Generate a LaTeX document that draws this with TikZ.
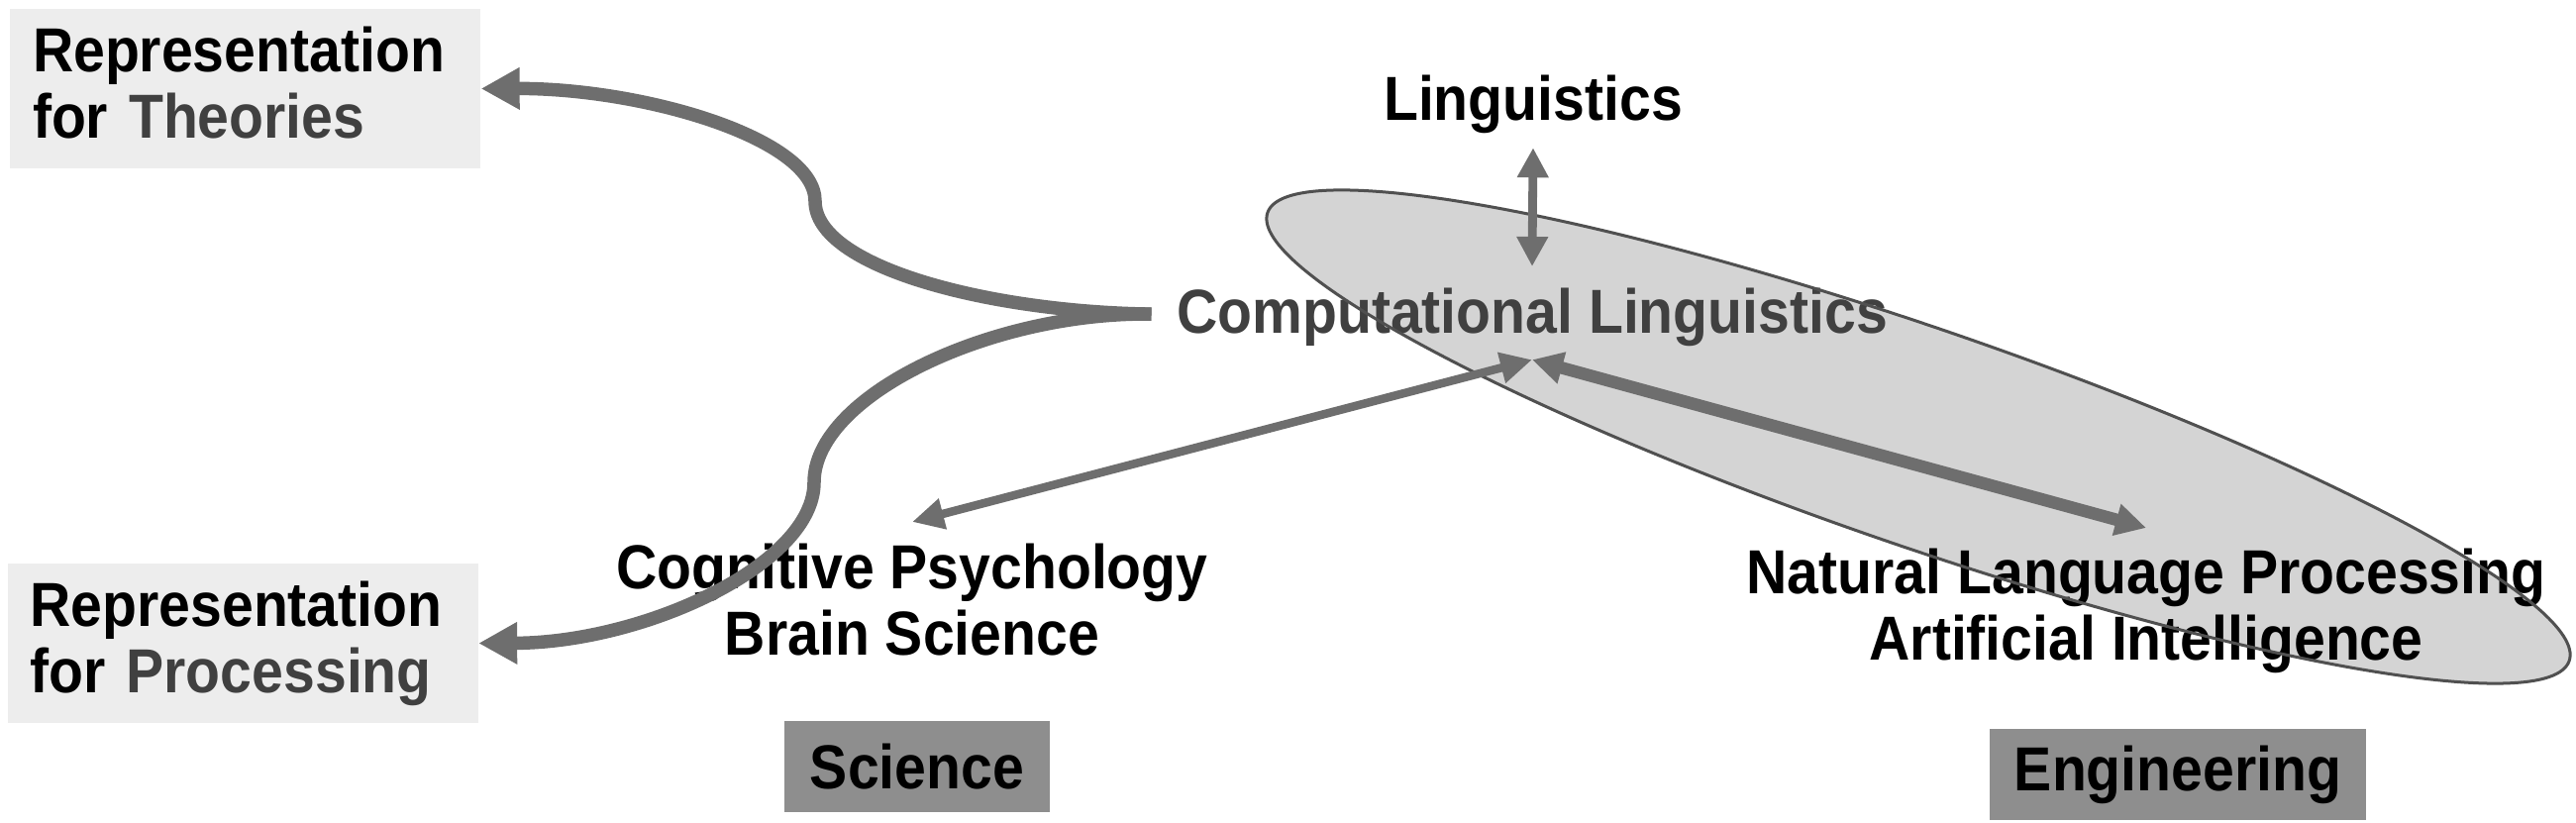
\documentclass[tikz,border=0pt]{standalone}
\usepackage{fontspec}
\setmainfont{Liberation Sans}[FakeStretch=0.91]
\usetikzlibrary{arrows.meta,calc}
\definecolor{arrowgray}{HTML}{6E6E6E}
\definecolor{textgray}{HTML}{404040}
\definecolor{boxlight}{HTML}{EDEDED}
\definecolor{boxdark}{HTML}{8E8E8E}
\definecolor{ellfill}{HTML}{D4D4D4}
\definecolor{elldraw}{HTML}{505050}
\begin{document}
\begin{tikzpicture}[x=0.1mm,y=-0.1mm,
  lab/.style={font=\fontsize{17.87pt}{19.06pt}\selectfont\bfseries, inner sep=0pt, align=center},
  reprbox/.style={lab, fill=boxlight, align=left, text width=42.9mm, inner xsep=2.3mm, inner ysep=0pt, minimum height=16.1mm},
  fieldbox/.style={lab, fill=boxdark, minimum height=9.2mm},
  curvearr/.style={draw=arrowgray, line width=1.35mm, -{Triangle[length=3.9mm,width=4.0mm]}},
  cogarr/.style={draw=arrowgray, line width=0.85mm, {Triangle[length=3.2mm,width=3.0mm]}-{Triangle[length=3.2mm,width=3.0mm]}},
  nlparr/.style={draw=arrowgray, line width=1.25mm, {Triangle[length=3.1mm,width=3.1mm]}-{Triangle[length=3.1mm,width=3.1mm]}},
  lingarr/.style={draw=arrowgray, line width=0.88mm, {Triangle[length=3.0mm,width=3.0mm]}-{Triangle[length=3.0mm,width=3.0mm]}},
  ellstyle/.style={shift={(1937,441)}, rotate=-19}
]
\useasboundingbox (0,0) rectangle (2601,831);

% ellipse fill (behind)
\fill[ellfill, ellstyle] (0,0) ellipse [x radius=69.5mm, y radius=11mm];

% nodes
\node[reprbox] (theo) at (247.5,89.5) {Representation\\for \textcolor{textgray}{Theories}\vphantom{g}};
\node[reprbox] (proc) at (245,649.5) {Representation\\for \textcolor{textgray}{Processing}};
\node[lab, anchor=north] (ling) at (1548,75) {Linguistics};
\node[lab, anchor=north, text=textgray] (cl) at (1547,290) {Computational Linguistics};
\node[lab, anchor=north] (cp) at (921,548) {Cognitive Psychology\\Brain Science};
\node[lab, anchor=north] (nlp) at (2167,553) {Natural Language Processing\\Artificial Intelligence};
\node[fieldbox, minimum width=26.8mm] (sci) at (926,774) {Science};
\node[fieldbox, minimum width=38mm] (eng) at (2199,782) {Engineering};

% ellipse outline
\draw[elldraw, line width=0.3mm, ellstyle] (0,0) ellipse [x radius=69.5mm, y radius=11mm];

% connector end points
\coordinate (lingb) at ($(ling.south)+(0,14)$);
\coordinate (clt) at ($(cl.north)+(0,-21)$);
\coordinate (clb) at ($(cl.south)+(0,13)$);
\coordinate (cpt) at ($(cp.north)+(0,-21)$);
\coordinate (nlpt) at ($(nlp.north)+(0,-20)$);
\coordinate (j) at ($(cl.west)+(-25,-3)$);

% connectors
\draw[lingarr] (lingb) -- (clt);
\draw[cogarr] (cpt) -- (clb);
\draw[nlparr] (clb) -- (nlpt);
\draw[curvearr] (j) .. controls (1000,315) and (823,270) .. (823,203) .. controls (823,140) and (650,89) .. (theo.east);
\draw[curvearr] (j) .. controls (1000,315) and (822,400) .. (822,487) .. controls (822,570) and (650,649) .. (proc.east);
\end{tikzpicture}
\end{document}
